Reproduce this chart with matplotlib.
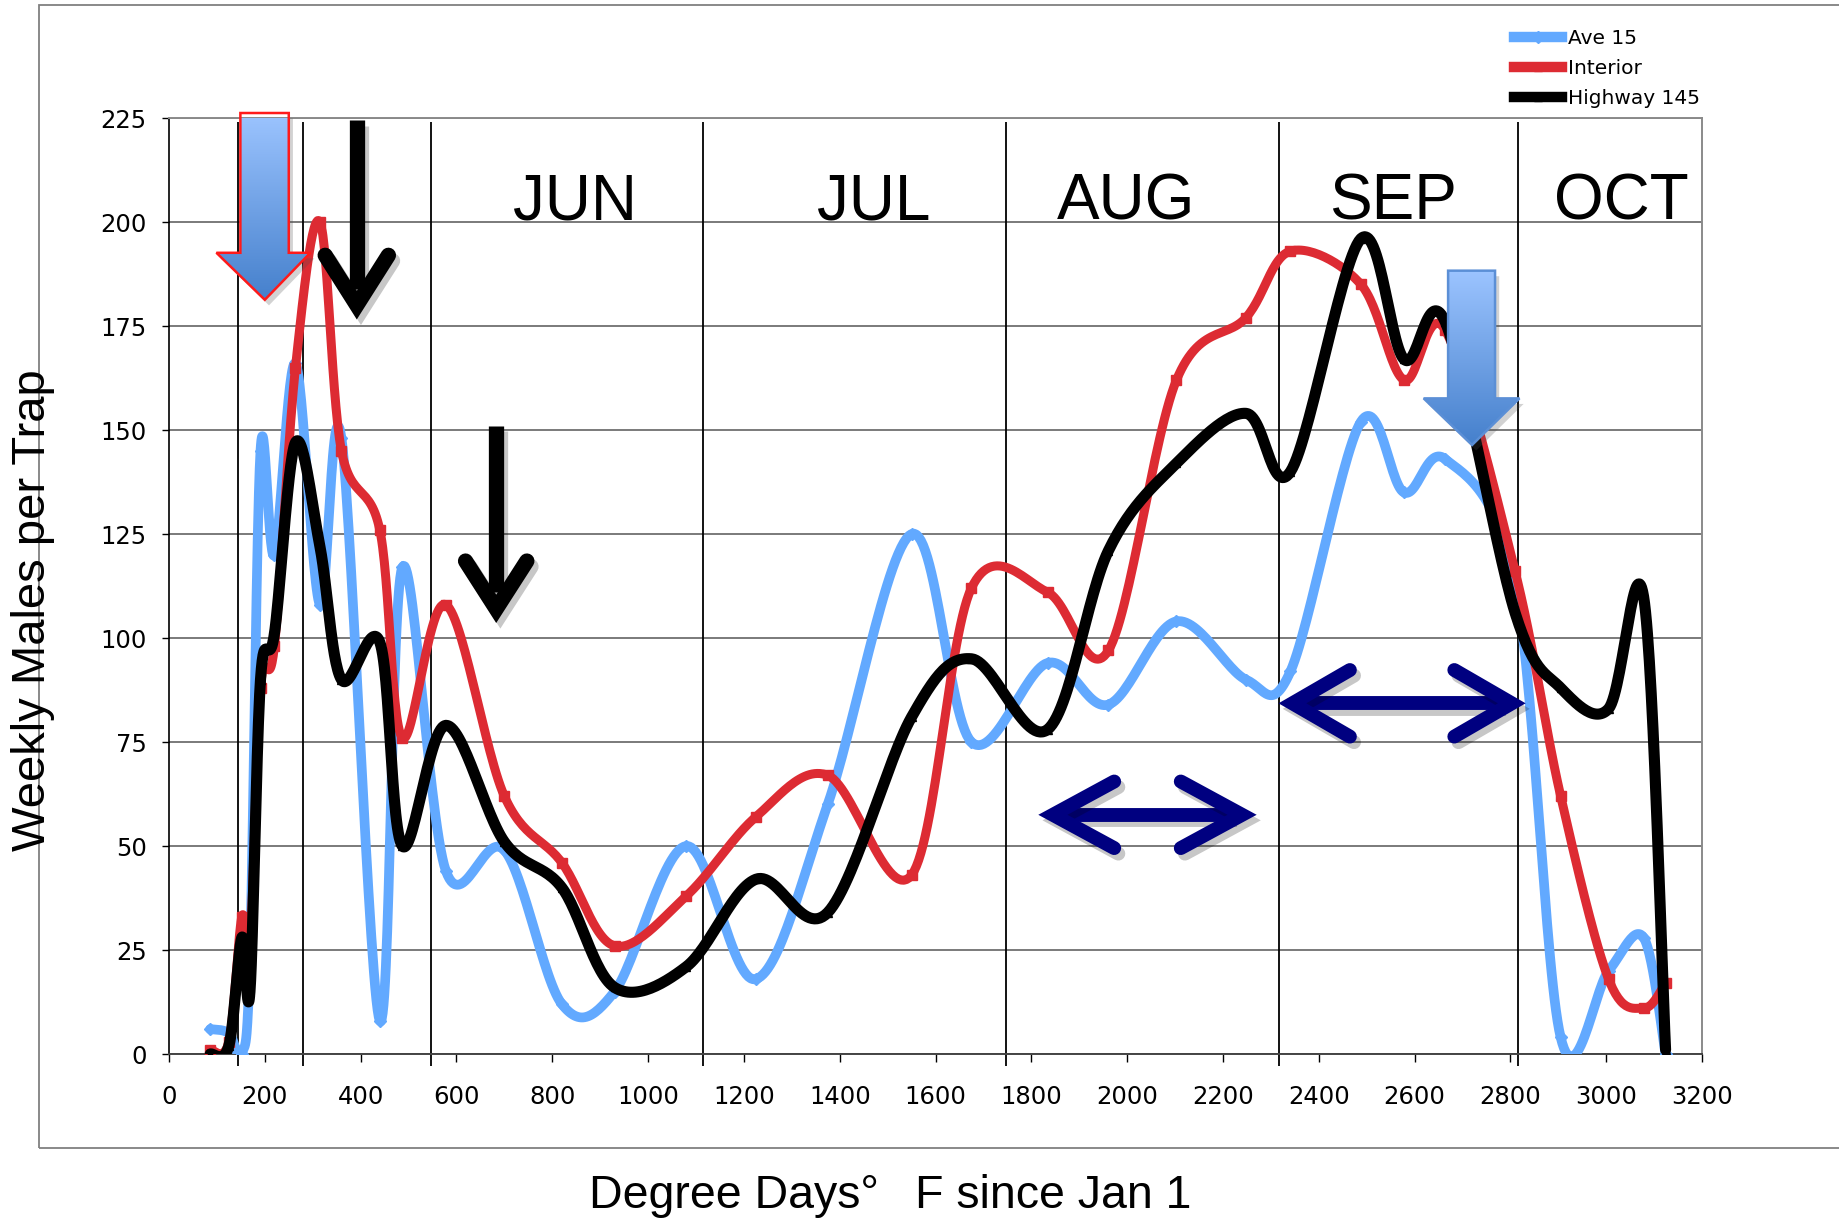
import numpy as np
import matplotlib
matplotlib.use("Agg")
import matplotlib.pyplot as plt
from matplotlib.patches import Polygon, Rectangle
from matplotlib.colors import LinearSegmentedColormap
import matplotlib.patheffects as pe

# weekly trap counts
degree_days = [86, 125, 152, 169, 191, 220, 264, 315, 360, 440, 487, 578, 700, 820, 930,
               1080, 1225, 1375, 1550, 1675, 1834, 1961, 2103, 2248, 2341, 2488, 2578,
               2664, 2810, 2905, 3005, 3078, 3124]
ave15 = [6, 5, 0, 23, 145, 120, 166, 108, 148, 8, 117, 44, 49, 12, 15,
         50, 18, 60, 125, 75, 94, 84, 104, 90, 92, 152, 135,
         143, 113, 4, 20, 28, 0]
interior = [1, 3, 33, 26, 88, 98, 165, 200, 145, 126, 76, 108, 62, 46, 26,
            38, 57, 67, 43, 112, 111, 97, 162, 177, 193, 185, 162,
            174, 116, 62, 18, 11, 17]
highway145 = [0, 2, 28, 15, 90, 101, 147, 122, 90, 99, 50, 79, 51, 40, 16,
              21, 42, 34, 81, 95, 78, 121, 142, 154, 140, 196, 167,
              176, 106, 88, 83, 110, 1]

months = ["JUN", "JUL", "AUG", "SEP", "OCT"]
month_label_x = [847, 1472, 1998, 2556, 3031]
month_bounds = [145, 279, 546, 1114, 1748, 2316, 2816]


def smooth(xs, ys, n=30):
    # excel-like smoothed line: bezier segments with catmull-rom handles
    p = np.column_stack([xs, ys]).astype(float)
    t = np.linspace(0, 1, n)[1:, None]
    out = [p[0]]
    for i in range(len(p) - 1):
        p0, p3 = p[i], p[i + 1]
        pm = p[max(i - 1, 0)]
        pn = p[min(i + 2, len(p) - 1)]
        c1 = p0 + (p3 - pm) / 6
        c2 = p3 - (pn - p0) / 6
        seg = (1 - t) ** 3 * p0 + 3 * (1 - t) ** 2 * t * c1 + 3 * (1 - t) * t ** 2 * c2 + t ** 3 * p3
        out.extend(seg)
    return np.array(out)


fig = plt.figure(figsize=(18.39, 12.24), dpi=100)
ax = fig.add_axes([169 / 1839, 1 - 1054 / 1224, 1533 / 1839, 936 / 1224])

series = [
    ("Ave 15", ave15, "#62a9ff", 7.0, "D", 6),
    ("Interior", interior, "#dd2b33", 6.5, "s", 7.5),
    ("Highway 145", highway145, "black", 8.0, "^", 6),
]
handles = []
for name, vals, col, lw, mk, ms in series:
    c = smooth(degree_days, vals)
    ax.plot(c[:, 0], c[:, 1], color=col, lw=lw, solid_joinstyle="round",
            solid_capstyle="round", zorder=4)
    ax.plot(degree_days, vals, ls="none", marker=mk, ms=ms, color=col, zorder=4)
    h, = ax.plot([], [], color=col, lw=7.5, marker=mk, ms=6)
    handles.append(h)

ax.set_xlim(0, 3200)
ax.set_ylim(0, 225)
ax.set_xticks(np.arange(0, 3201, 200))
ax.set_yticks(np.arange(0, 226, 25))
ax.yaxis.grid(True, color="#7a7a7a", lw=1.4)
ax.set_axisbelow(True)
for s in ["top", "right"]:
    ax.spines[s].set_color("#8a8a8a")
    ax.spines[s].set_linewidth(1.4)
ax.spines["left"].set_color("black")
ax.spines["bottom"].set_color("#444444")
ax.spines["left"].set_linewidth(1.2)
ax.spines["bottom"].set_linewidth(1.4)
ax.tick_params(axis="y", direction="out", length=5, width=1, pad=11, labelsize=17.5)
ax.tick_params(axis="x", direction="out", length=5.5, width=1, pad=17, labelsize=17.5)
for lab in ax.get_xticklabels() + ax.get_yticklabels():
    lab.set_family("DejaVu Sans")

# month separators and names
ax.vlines(month_bounds, -3, 224, colors="black", lw=1.3, clip_on=False, zorder=2)
for name, mx in zip(months, month_label_x):
    ax.text(mx, 200.7, name, ha="center", va="baseline", fontsize=46,
            family="Liberation Sans", zorder=3)

# gradient block arrows
grad_cmap = LinearSegmentedColormap.from_list("g", ["#4580cc", "#9cc4ff"])


def block_arrow(sx0, sx1, top, base, hx0, hx1, tipx, tipy, edge):
    verts = [(sx0, top), (sx1, top), (sx1, base), (hx1, base), (tipx, tipy),
             (hx0, base), (sx0, base)]
    poly = Polygon(verts, closed=True, facecolor="none", edgecolor=edge, lw=1.8,
                   zorder=7, clip_on=False)
    shadow = Polygon(verts, closed=True, facecolor="none", edgecolor="none", zorder=6,
                     clip_on=False,
                     path_effects=[pe.SimplePatchShadow(offset=(3, -4), alpha=0.25)])
    ax.add_patch(shadow)
    ax.add_patch(poly)
    grad = np.linspace(0, 1, 256).reshape(-1, 1)
    im = ax.imshow(grad, extent=[hx0, hx1, tipy, top], origin="lower", aspect="auto",
                   cmap=grad_cmap, zorder=6.5)
    im.set_clip_path(poly)


block_arrow(149, 250, 226.2, 192.6, 99, 295, 200, 181.3, "#ff1a1a")
block_arrow(2670, 2768, 188.3, 157.6, 2619, 2819, 2720, 146.4, "#5b8fd6")

shade = [pe.SimpleLineShadow(offset=(3, -4), alpha=0.22), pe.Normal()]


def line_arrow(x, top, tipy, armx, army):
    ax.plot([x, x], [top, tipy + 4], color="black", lw=11, solid_capstyle="butt",
            zorder=7, clip_on=False, path_effects=shade)
    ax.plot([x - armx, x, x + armx], [army, tipy, army], color="black", lw=11,
            solid_capstyle="round", solid_joinstyle="miter", zorder=7, clip_on=False,
            path_effects=shade)


line_arrow(392, 224.4, 180, 66, 192)
line_arrow(683, 151, 107, 64, 118.5)


def double_arrow(x0, x1, y, armdx, armdy):
    ax.plot([x0 + 20, x1 - 20], [y, y], color="#000080", lw=10, solid_capstyle="butt",
            zorder=7, path_effects=shade)
    ax.plot([x0 + armdx, x0, x0 + armdx], [y + armdy, y, y - armdy], color="#000080",
            lw=10, solid_capstyle="round", solid_joinstyle="miter", zorder=7,
            path_effects=shade)
    ax.plot([x1 - armdx, x1, x1 - armdx], [y + armdy, y, y - armdy], color="#000080",
            lw=10, solid_capstyle="round", solid_joinstyle="miter", zorder=7,
            path_effects=shade)


double_arrow(1845, 2240, 57.5, 128, 8)
double_arrow(2345, 2803, 84.3, 120, 8)

# outer frame
fig.patches.append(Rectangle((39 / 1839, 1 - 1148 / 1224), 1.0, 1143 / 1224,
                             transform=fig.transFigure, fill=False,
                             edgecolor="#808080", lw=1.3))

fig.text(0.018, 0.5016, "Weekly Males per Trap", rotation=90, ha="center",
         va="center", fontsize=34, family="Liberation Sans")
fig.text(0.484, 0.0229, "Degree Days\u00b0\u2002 F since Jan 1", ha="center",
         va="center", fontsize=33.5, family="Liberation Sans")

fig.legend(handles, [s[0] for s in series], loc="upper left",
           bbox_to_anchor=(1514 / 1839, 1 - 29 / 1224), frameon=False, borderpad=0,
           borderaxespad=0, handlelength=2.4, handletextpad=0.3, labelspacing=0.55,
           prop={"family": "DejaVu Sans", "size": 14.5})

fig.savefig("out.png", dpi=100)
